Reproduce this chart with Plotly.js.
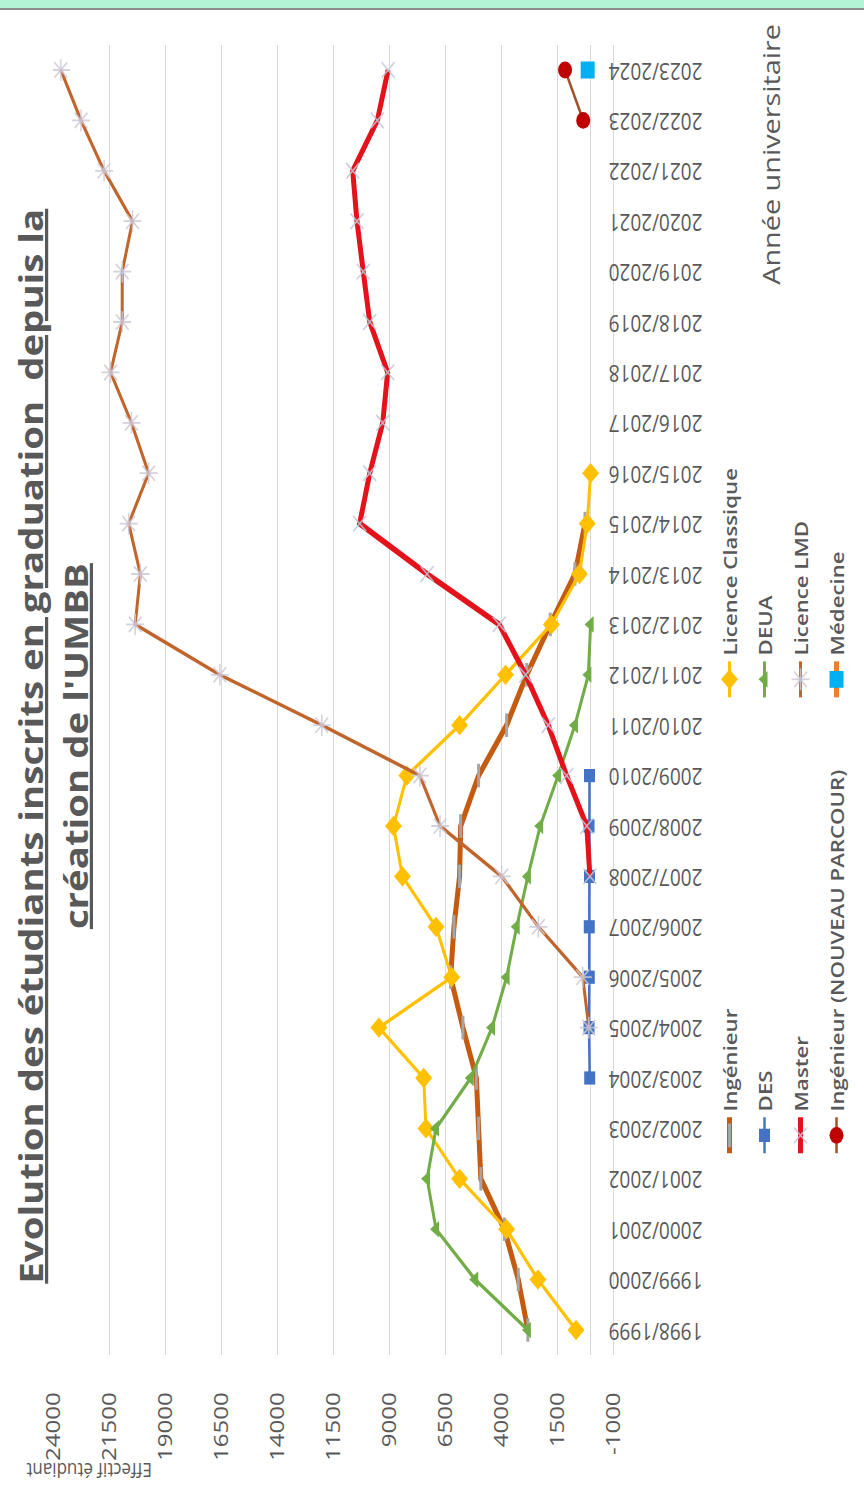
<!DOCTYPE html>
<html><head><meta charset="utf-8">
<script src="https://cdn.plot.ly/plotly-3.0.1.min.js"></script>
<style>
html,body{margin:0;padding:0;background:#fff;width:864px;height:1492px;overflow:hidden;}
#band{position:absolute;left:0;top:0;width:864px;height:8px;background:#b3f4d6;border-bottom:2px solid #8c8c8c;z-index:5;}
#chart{position:absolute;left:0;top:0;width:1243px;height:864px;transform-origin:0 0;transform:translate(0px,1492px) rotate(-90deg) scale(1.2,1);}
</style></head><body>
<div id="band"></div>
<div id="chart"></div>
<script>
const years = ['1998/1999','1999/2000','2000/2001','2001/2002','2002/2003','2003/2004','2004/2005','2005/2006','2006/2007','2007/2008','2008/2009','2009/2010','2010/2011','2011/2012','2012/2013','2013/2014','2014/2015','2015/2016','2016/2017','2017/2018','2018/2019','2019/2020','2020/2021','2021/2022','2022/2023','2023/2024'];
const ingenieur = [2800,3230,3850,4900,5000,5100,5700,6250,6100,5850,5800,5000,3750,2850,1800,700,250,null,null,null,null,null,null,null,null,null];
const licenceClassique = [650,2350,3750,5850,7350,7450,9450,6200,6900,8400,8800,8200,5850,3800,1750,500,150,0,null,null,null,null,null,null,null,null];
const des = [null,null,null,null,null,40,70,60,60,50,70,50,null,null,null,null,null,null,null,null,null,null,null,null,null,null];
const deua = [2800,5150,6900,7300,6900,5350,4400,3750,3300,2800,2250,1450,700,100,0,null,null,null,null,null,null,null,null,null,null,null];
const master = [null,null,null,null,null,null,null,null,null,30,170,1070,1890,2900,4080,7300,10310,9860,9280,9060,9860,10150,10430,10620,9520,9040];
const licenceLMD = [null,null,null,null,null,null,80,350,2330,3970,6720,7620,12000,16550,20330,20100,20620,19730,20500,21430,20910,20910,20450,21720,22750,23650];
const ingenieurNP = [null,null,null,null,null,null,null,null,null,null,null,null,null,null,null,null,null,null,null,null,null,null,null,null,330,1140];
const medecine = [null,null,null,null,null,null,null,null,null,null,null,null,null,null,null,null,null,null,null,null,null,null,null,null,null,130];
const yTickVals = [-1000,1500,4000,6500,9000,11500,14000,16500,19000,21500,24000];
const yTickLabels = ['-1000','1500','4000','6500','9000','11500','14000','16500','19000','21500','24000'];

const GREY = '#595959';
const traces = [
  {name:'Ingénieur', x:years, y:ingenieur, mode:'lines+markers', legend:'legend',
   line:{color:'#C55A11', width:5}, marker:{symbol:'line-ew', size:14, color:'#A5A5A5', line:{color:'#A5A5A5', width:3}}},
  {name:'Licence Classique', x:years, y:licenceClassique, mode:'lines+markers', legend:'legend',
   line:{color:'#FFC000', width:3}, marker:{symbol:'diamond', size:13, color:'#FFC000'}},
  {name:'DES', x:years, y:des, mode:'lines+markers', legend:'legend2',
   line:{color:'#4472C4', width:2.5}, marker:{symbol:'square', size:11, color:'#4472C4'}},
  {name:'DEUA', x:years, y:deua, mode:'lines+markers', legend:'legend2',
   line:{color:'#70AD47', width:3}, marker:{symbol:'triangle-up', size:12, color:'#70AD47'}},
  {name:'Master', x:years, y:master, mode:'lines+markers', legend:'legend3',
   line:{color:'#E3121B', width:5}, marker:{symbol:'x-thin-open', size:13, color:'rgba(190,200,218,0.85)', line:{color:'rgba(190,200,218,0.85)', width:1.5}}},
  {name:'Licence LMD', x:years, y:licenceLMD, mode:'lines+markers', legend:'legend3',
   line:{color:'#C0652B', width:3}, marker:{symbol:'asterisk-open', size:15, color:'rgba(205,200,215,0.85)', line:{color:'rgba(205,200,215,0.85)', width:1.5}}},
  {name:'Ingénieur (NOUVEAU PARCOUR)', x:years, y:ingenieurNP, mode:'lines+markers', legend:'legend4',
   line:{color:'#A0522D', width:2.5}, marker:{symbol:'circle', size:14, color:'#C00000'}},
  {name:'Médecine', x:years, y:medecine, mode:'lines+markers', legend:'legend4',
   line:{color:'#ED7D31', width:5}, marker:{symbol:'square', size:14, color:'#00B0F0'}}
];

const legFont = {family:'Open Sans', size:18.5, color:GREY, weight:600};
function leg(yPix){
  return {orientation:'h', xref:'container', yref:'container', x:0.223, xanchor:'left',
          y:1 - yPix/864, yanchor:'middle', entrywidth:335, entrywidthmode:'pixels',
          font:legFont, bgcolor:'rgba(0,0,0,0)', borderwidth:0, traceorder:'normal'};
}

const layout = {
  width:1243, height:864,
  margin:{l:114, r:37, t:53, b:251},
  paper_bgcolor:'#ffffff', plot_bgcolor:'#ffffff',
  showlegend:true,
  title:{text:"Evolution des étudiants inscrits en graduation  depuis la",
         font:{family:'Open Sans', size:32, color:GREY, weight:'bold', lineposition:'under'},
         x:0.5, xref:'container', xanchor:'center', y:1 - 32/864, yref:'container', yanchor:'middle'},
  xaxis:{type:'category', range:[-0.5, 25.5], showgrid:false, showline:true, linecolor:'#D9D9D9', linewidth:1,
         tickangle:-90, tickfont:{family:'Open Sans', size:19, color:GREY}, ticks:'', zeroline:false,
         ticklabelstandoff:-13, title:{text:''}},
  yaxis:{range:[-1000, 24000], tickmode:'array', tickvals:yTickVals, ticktext:yTickLabels,
         showgrid:true, gridcolor:'#D9D9D9', gridwidth:1, zeroline:true, zerolinecolor:'#D9D9D9', zerolinewidth:1,
         showline:false, ticks:'', ticklabelstandoff:30,
         tickfont:{family:'Open Sans', size:20, color:GREY}, title:{text:''}},
  legend:leg(730), legend2:leg(765), legend3:leg(801), legend4:leg(837),
  annotations:[
    {text:"création de l'UMBB", xref:'paper', yref:'paper', x:(621.5-114)/1092, y:(613-76)/560,
     xanchor:'center', yanchor:'middle', showarrow:false,
     font:{family:'Open Sans', size:32, color:GREY, weight:'bold', lineposition:'under'}},
    {text:'Effectif étudiant', xref:'paper', yref:'paper', x:(17-114)/1092, y:(613-89)/560,
     xanchor:'center', yanchor:'middle', textangle:-90, showarrow:false,
     font:{family:'Open Sans', size:17, color:GREY}},
    {text:'Année universitaire', xref:'paper', yref:'paper', x:(1114-114)/1092, y:(613-770)/560,
     xanchor:'center', yanchor:'middle', showarrow:false,
     font:{family:'Open Sans', size:24, color:GREY}}
  ]
};

Plotly.newPlot('chart', traces, layout, {staticPlot:true, displayModeBar:false});
</script>
</body></html>
